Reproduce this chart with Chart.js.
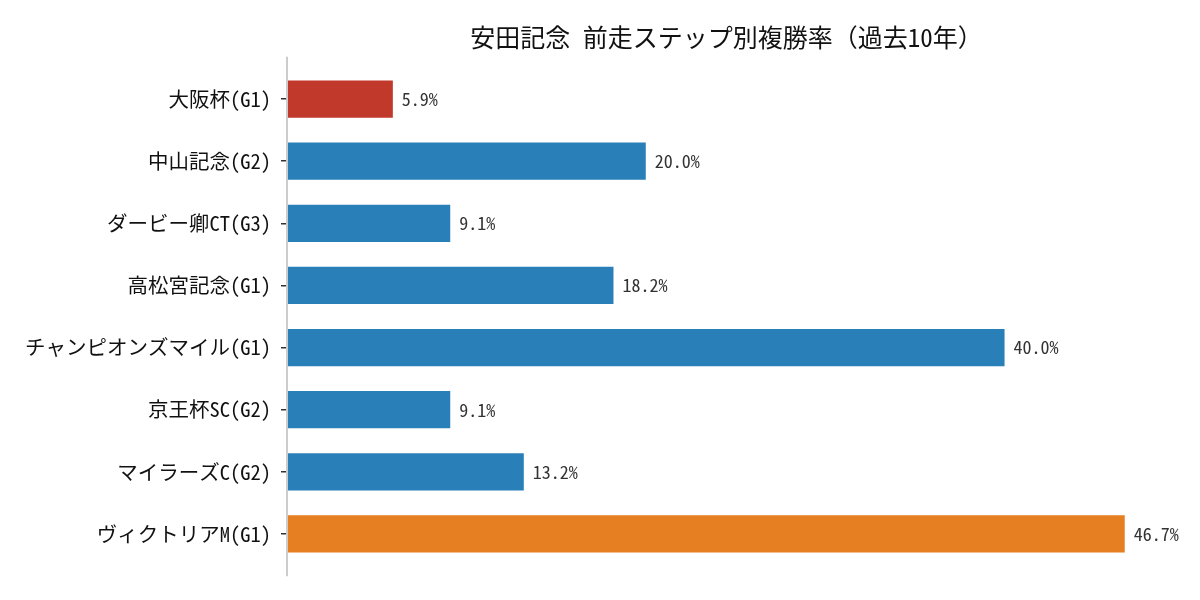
<!DOCTYPE html>
<html><head><meta charset="utf-8">
<script src="https://cdn.jsdelivr.net/npm/chart.js@4/dist/chart.umd.min.js"></script>
<style>html,body{margin:0;padding:0;background:#fff}#wrap{width:1200px;height:600px}</style>
</head><body><div id="wrap"><canvas id="c" width="1200" height="600"></canvas></div>
<script>
const titleText = '安田記念 前走ステップ別複勝率（過去10年）';
const categories = ['大阪杯(G1)','中山記念(G2)','ダービー卿CT(G3)','高松宮記念(G1)','チャンピオンズマイル(G1)','京王杯SC(G2)','マイラーズC(G2)','ヴィクトリアM(G1)'];
const rates = [5.9, 20.0, 9.1, 18.2, 40.0, 9.1, 13.2, 46.7];
const barColors = ['#c0392b','#2980b9','#2980b9','#2980b9','#2980b9','#2980b9','#2980b9','#e67e22'];
const FONT = "'Noto Sans Mono CJK JP', 'Noto Sans CJK JP', 'DejaVu Sans', sans-serif";

const spinePlugin = {
  id: 'spine',
  afterDatasetsDraw(chart) {
    const ctx = chart.ctx, a = chart.chartArea;
    const step = (a.bottom - a.top) / categories.length;
    ctx.save();
    ctx.strokeStyle = '#cccccc';
    ctx.lineWidth = 2;
    ctx.beginPath();
    ctx.moveTo(a.left, a.top - 0.18 * step);
    ctx.lineTo(a.left, a.bottom + 0.18 * step);
    ctx.stroke();
    ctx.restore();
  }
};
const valueLabels = {
  id: 'valueLabels',
  afterDatasetsDraw(chart) {
    const ctx = chart.ctx;
    const meta = chart.getDatasetMeta(0);
    ctx.save();
    ctx.font = '18px ' + FONT;
    ctx.fillStyle = '#333333';
    ctx.textAlign = 'left';
    ctx.textBaseline = 'middle';
    meta.data.forEach((bar, i) => {
      ctx.fillText(rates[i].toFixed(1) + '%', bar.x + 9, bar.y);
    });
    ctx.restore();
  }
};

new Chart(document.getElementById('c'), {
  type: 'bar',
  data: {
    labels: categories,
    datasets: [{ data: rates, backgroundColor: barColors, borderWidth: 0,
      barPercentage: 0.6, categoryPercentage: 1.0 }]
  },
  options: {
    indexAxis: 'y',
    responsive: false,
    animation: false,
    layout: { padding: { top: 0, right: 34, bottom: 35, left: 0 } },
    plugins: {
      legend: { display: false },
      tooltip: { enabled: false },
      title: { display: true, text: titleText, fullSize: false, color: '#111',
        font: { family: FONT, size: 25, weight: 'normal' }, padding: { top: 22, bottom: 16 } }
    },
    scales: {
      x: { display: false, min: 0, max: 49.0 },
      y: {
        offset: true,
        border: { display: false },
        grid: { display: true, offset: false, drawOnChartArea: false, drawTicks: true, tickLength: 6, color: '#333333', lineWidth: 1.5 },
        ticks: { color: '#111', padding: 10, font: { family: FONT, size: 20.5 } },
        afterFit(scale) { scale.width = 287; }
      }
    }
  },
  plugins: [spinePlugin, valueLabels]
});
</script></body></html>
